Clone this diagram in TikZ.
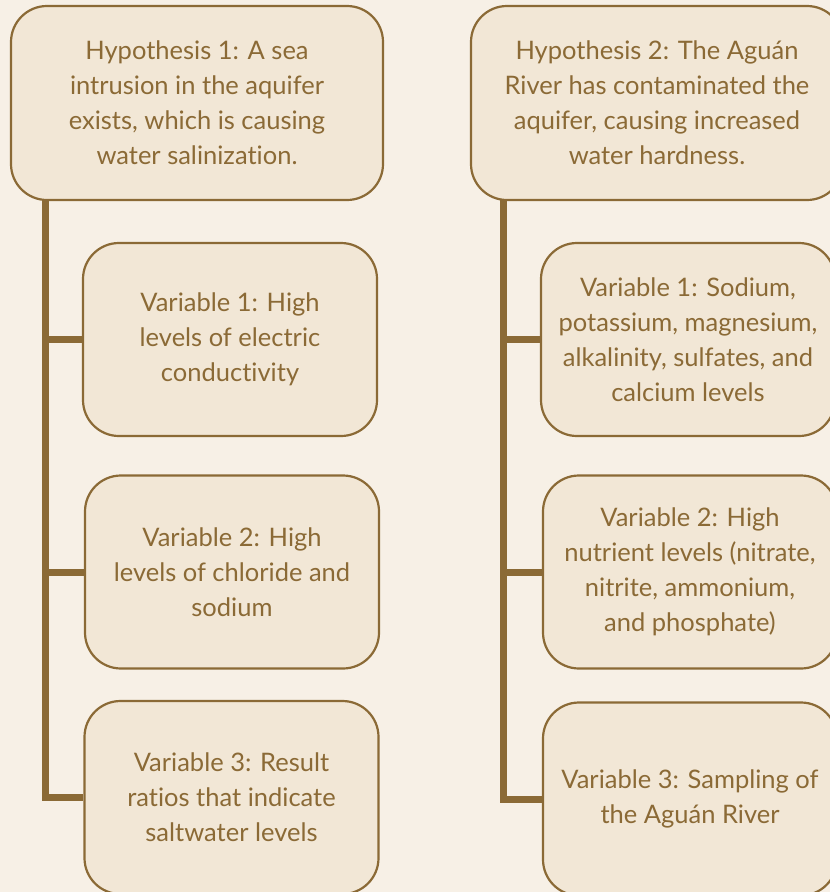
\documentclass[tikz,border=0pt]{standalone}
\usepackage{fontspec}
\setmainfont{Lato}[Ligatures=NoCommon]
\definecolor{bg}{HTML}{F7F0E6}
\definecolor{boxfill}{HTML}{F2E7D6}
\definecolor{brown}{HTML}{8B6A36}
\begin{document}
\begin{tikzpicture}[x=1pt,y=-1pt,
  box/.style={draw=brown, line width=2.2pt, fill=boxfill, rounded corners=36pt,
    align=center, text=brown, inner sep=0pt,
    font=\fontsize{25.5}{35}\selectfont},
  hyp/.style={box, minimum width=372pt, minimum height=194pt},
  var/.style={box, minimum width=294pt, minimum height=193pt},
  link/.style={draw=brown, line width=7pt, line join=miter}]
\fill[bg] (0,0) rectangle (830,892);
\useasboundingbox (0,0) rectangle (830,892);
\clip (0,0) rectangle (830,892);
% connector start points
\coordinate (tL) at (45,199);
\coordinate (tR) at (503,199);
% left column
\node[hyp] (H1) at (197,103) {Hypothesis 1: A sea\\intrusion in the aquifer\\exists, which is causing\\water salinization.};
\node[var] (V1L) at (230,339.5) {Variable 1: High\\levels of electric\\conductivity};
\node[var] (V2L) at (232,572) {Variable 2: High\\levels of chloride and\\sodium};
\node[var] (V3L) at (231.5,797.5) {Variable 3: Result\\ratios that indicate\\saltwater levels};
% right column
\node[hyp] (H2) at (657,103) {Hypothesis 2: The Aguán\\River has contaminated the\\aquifer, causing increased\\water hardness.};
\node[var] (V1R) at (688,339.5) {Variable 1: Sodium,\\potassium, magnesium,\\alkalinity, sulfates, and\\calcium levels};
\node[var] (V2R) at (690,572) {Variable 2: High\\nutrient levels (nitrate,\\nitrite, ammonium,\\and phosphate)};
\node[var] (V3R) at (690,799) {Variable 3: Sampling of\\the Aguán River};
% connectors
\draw[link] (tL) |- (V3L.west);
\draw[link] (tL) |- (V1L.west);
\draw[link] (tL) |- (V2L.west);
\draw[link] (tR) |- (V3R.west);
\draw[link] (tR) |- (V1R.west);
\draw[link] (tR) |- (V2R.west);
\end{tikzpicture}
\end{document}
